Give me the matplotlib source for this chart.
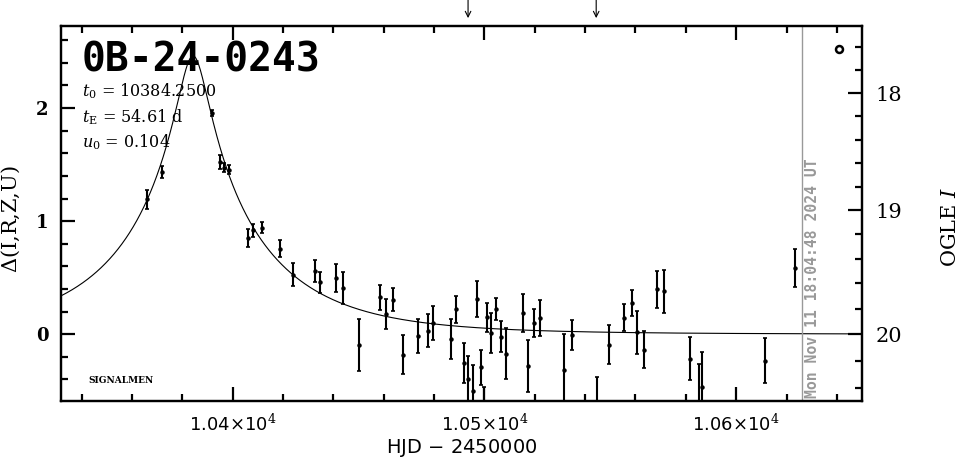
import numpy as np
import matplotlib
matplotlib.use("Agg")
import matplotlib.pyplot as plt

plt.rcParams['mathtext.fontset'] = 'dejavuserif'

# event parameters (shown on the plot)
event_name = "0B-24-0243"
t0 = 10384.25
tE = 54.61
u0 = 0.104
blend = 0.133  # blended flux fraction used for the OGLE I scale
I_base = 20.0

# photometry: HJD-2450000, delta, error
hjd = [10365.8, 10371.9, 10391.9, 10395.0, 10396.7, 10398.7, 10406.0, 10408.0,
       10411.8, 10418.8, 10424.1, 10432.7, 10434.7, 10441.1, 10444.0, 10450.0,
       10458.5, 10460.8, 10463.8, 10467.8, 10473.8, 10477.7, 10479.7, 10486.6,
       10488.9, 10491.7, 10493.6, 10495.6, 10497.0, 10498.7, 10499.8, 10501.0,
       10502.7, 10504.7, 10506.5, 10508.5, 10515.5, 10517.5, 10519.8, 10521.9,
       10531.7, 10534.6, 10544.6, 10549.6, 10555.6, 10558.6, 10560.6, 10563.5,
       10568.5, 10571.5, 10581.5, 10585.4, 10586.4, 10611.3, 10623.5]
delta = [1.192, 1.434, 1.956, 1.522, 1.472, 1.455, 0.853, 0.918,
         0.942, 0.756, 0.528, 0.558, 0.460, 0.499, 0.410, -0.091,
         0.327, 0.180, 0.307, -0.180, -0.012, 0.033, 0.097, -0.041,
         0.219, -0.253, -0.395, -0.500, 0.313, -0.292, -0.700, 0.150,
         0.009, 0.225, -0.020, -0.174, 0.186, -0.283, 0.100, 0.142,
         -0.315, -0.005, -0.630, -0.091, 0.145, 0.278, 0.018, -0.138,
         0.396, 0.381, -0.218, -0.600, -0.470, -0.233, 0.584]
err = [0.088, 0.050, 0.030, 0.063, 0.040, 0.040, 0.080, 0.055,
       0.050, 0.074, 0.100, 0.100, 0.093, 0.125, 0.144, 0.230,
       0.110, 0.134, 0.100, 0.170, 0.150, 0.147, 0.150, 0.177,
       0.120, 0.177, 0.200, 0.230, 0.157, 0.153, 0.230, 0.130,
       0.177, 0.097, 0.133, 0.226, 0.167, 0.230, 0.126, 0.157,
       0.320, 0.133, 0.250, 0.174, 0.119, 0.114, 0.190, 0.163,
       0.163, 0.190, 0.190, 0.340, 0.310, 0.200, 0.170]

arrow_hjd = [10493.5, 10544.4]
now_hjd = 10626.3
now_text = "Mon Nov 11 18:04:48 2024 UT"
marker_pt = (10640.7, 2.526)

mag_major = [18, 19, 20]
mag_minor = np.arange(17.6, 20.41, 0.2)


def paczynski(t):
    u = np.sqrt(u0**2 + ((t - t0) / tE)**2)
    return (u**2 + 2) / (u * np.sqrt(u**2 + 4))


def mag_to_delta(m):
    f = 10**(-0.4 * (np.asarray(m) - I_base))
    return 2.5 * np.log10((f - blend) / (1 - blend))


fig = plt.figure(figsize=(9.65, 4.59), dpi=100)
ax = fig.add_axes([0.0632, 0.1264, 0.8301, 0.8170])
xlim = (10331.8, 10650.0)
ylim = (-0.59, 2.726)
ax.set_xlim(*xlim)
ax.set_ylim(*ylim)

tt = np.linspace(xlim[0], xlim[1], 2000)
ax.plot(tt, 2.5 * np.log10(paczynski(tt)), color='black', lw=0.8)

ax.errorbar(hjd, delta, yerr=err, fmt='o', ms=2.2, color='black',
            ecolor='black', elinewidth=1.5, capsize=1.6, capthick=1.2)

ax.plot([marker_pt[0]], [marker_pt[1]], 'o', ms=5, mfc='white', mec='black', mew=1.8)

ax.axvline(now_hjd, color='#999999', lw=1.0)
ax.text(now_hjd + 1.2, -0.56, now_text, rotation=90, ha='left', va='bottom',
        color='#999999', fontsize=10.6, family='DejaVu Sans Mono', fontweight='bold')

for xa in arrow_hjd:
    ax.annotate('', xy=(xa, 1.021), xycoords=('data', 'axes fraction'),
                xytext=(xa, 1.072), textcoords=('data', 'axes fraction'),
                arrowprops=dict(arrowstyle='->', lw=0.8, color='black',
                                shrinkA=0, shrinkB=0))

# frame and ticks
for s in ax.spines.values():
    s.set_linewidth(1.6)
ax.set_xticks([10400, 10500, 10600])
ax.set_xticklabels([r'1.04$\times$10$^4$', r'1.05$\times$10$^4$', r'1.06$\times$10$^4$'])
ax.set_xticks(np.arange(10340, 10650, 20), minor=True)
ax.set_yticks([0, 1, 2])
ax.set_yticks(np.arange(-0.4, 2.71, 0.2), minor=True)
ax.tick_params(which='both', direction='in', top=True, right=False, width=1.6)
ax.tick_params(which='major', length=10)
ax.tick_params(which='minor', length=5)
ax.tick_params(axis='x', labelsize=13, pad=9)
ax.tick_params(axis='y', labelsize=13, pad=9)
for lab in ax.get_yticklabels():
    lab.set_fontweight('bold')
    lab.set_family('DejaVu Serif')

ax.set_xlabel('HJD $-$ 2450000', fontsize=14, labelpad=2)
ax.set_ylabel(r'$\Delta$(I,R,Z,U)', fontsize=15, family='DejaVu Serif')
ax.yaxis.set_label_coords(-0.049, 0.485)

# right axis: OGLE I magnitude
ax2 = ax.twinx()
ax2.set_ylim(*ylim)
ax2.set_yticks(mag_to_delta(mag_major))
ax2.set_yticklabels([str(m) for m in mag_major], family='DejaVu Serif')
ax2.set_yticks(mag_to_delta(mag_minor), minor=True)
ax2.tick_params(which='both', direction='in', width=1.6, labelsize=15, pad=10)
ax2.tick_params(which='major', length=10)
ax2.tick_params(which='minor', length=5)
for s in ax2.spines.values():
    s.set_linewidth(1.6)
ax2.set_ylabel(r'OGLE $I$', fontsize=15, family='DejaVu Serif', rotation=90)
ax2.yaxis.set_label_coords(1.099, 0.465)

# labels inside the panel
ax.text(0.026, 0.962, event_name, transform=ax.transAxes, fontsize=28.5,
        family='DejaVu Sans Mono', fontweight='bold', va='top', ha='left')
params = [r'$t_{\rm 0}$ = 10384.2500', r'$t_{\rm E}$ = 54.61 d', r'$u_{\rm 0}$ = 0.104']
for i, p in enumerate(params):
    ax.text(0.026, 0.825 - i * 0.068, p, transform=ax.transAxes, fontsize=11.5,
            family='DejaVu Serif', va='center', ha='left')
ax.text(0.034, 0.055, 'SIGNALMEN', transform=ax.transAxes, fontsize=6.5,
        family='DejaVu Serif', fontweight='bold', va='center', ha='left')

fig.savefig('out.png', dpi=100)
